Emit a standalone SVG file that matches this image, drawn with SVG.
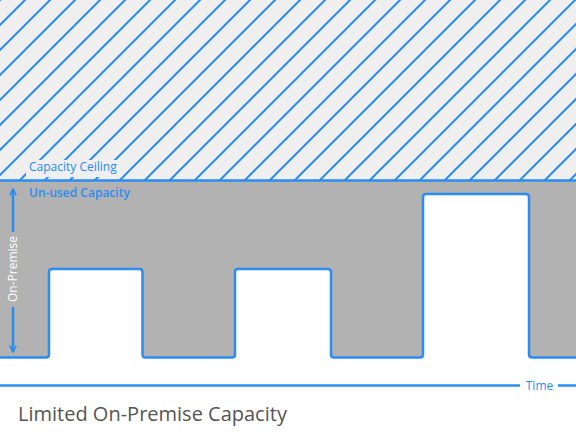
<svg xmlns="http://www.w3.org/2000/svg" width="576" height="441" viewBox="0 0 576 441">
  <defs>
    <pattern id="hatch" patternUnits="userSpaceOnUse" width="25" height="25">
      <rect width="25" height="25" fill="#efefef"/>
      <path d="M0,25 L25,0 M-2,2 L2,-2 M23,27 L27,23" stroke="#2b8cf2" stroke-width="2"/>
    </pattern>
    <marker id="arr" viewBox="0 0 10 10" refX="9" refY="5" markerWidth="8" markerHeight="8" orient="auto" markerUnits="userSpaceOnUse">
      <path d="M1,1 L9,5 L1,9" fill="none" stroke="#2b8cf2" stroke-width="2"/>
    </marker>
    <style>
      .blue { fill: #2b8cf2; font-family: "Open Sans", "Noto Sans", sans-serif; font-size: 12px; }
      .line { stroke: #2b8cf2; stroke-width: 2.5; fill: none; }
    </style>
  </defs>
  <rect width="576" height="441" fill="#ffffff"/>
  <g id="ceiling-area">
    <rect x="0" y="0" width="576" height="180" fill="url(#hatch)"/>
  </g>
  <g id="usage">
    <path d="M0,180 H576 V357.5 H532 Q529,357.5 529,354.5 V197 Q529,194 526,194 H426 Q423,194 423,197 V354.5 Q423,357.5 420,357.5 H334 Q331,357.5 331,354.5 V272 Q331,269 328,269 H238 Q235,269 235,272 V354.5 Q235,357.5 232,357.5 H145.5 Q142.5,357.5 142.5,354.5 V272 Q142.5,269 139.5,269 H52 Q49,269 49,272 V354.5 Q49,357.5 46,357.5 H0 Z" fill="#b2b2b2"/>
    <path class="line" d="M0,357.5 H46 Q49,357.5 49,354.5 V272 Q49,269 52,269 H139.5 Q142.5,269 142.5,272 V354.5 Q142.5,357.5 145.5,357.5 H232 Q235,357.5 235,354.5 V272 Q235,269 238,269 H328 Q331,269 331,272 V354.5 Q331,357.5 334,357.5 H420 Q423,357.5 423,354.5 V197 Q423,194 426,194 H526 Q529,194 529,197 V354.5 Q529,357.5 532,357.5 H576"/>
  </g>
  <g id="connectors">
    <line class="line" x1="0" y1="180.5" x2="576" y2="180.5"/>
    <line class="line" x1="13" y1="232" x2="13" y2="189" marker-end="url(#arr)" stroke-width="2"/>
    <line class="line" x1="13" y1="307" x2="13" y2="352" marker-end="url(#arr)" stroke-width="2"/>
    <line class="line" x1="0" y1="385.5" x2="520" y2="385.5"/>
    <line class="line" x1="558" y1="385.5" x2="576" y2="385.5"/>
  </g>
  <g id="labels">
    <rect x="26" y="160" width="96" height="17" fill="#efefef"/>
    <text class="blue" x="29" y="171">Capacity Ceiling</text>
    <text class="blue" x="29" y="197" font-weight="600">Un-used Capacity</text>
    <text x="539.5" y="390" text-anchor="middle" class="blue">Time</text>
    <text transform="translate(17,269) rotate(-90)" text-anchor="middle" font-family="Open Sans, Noto Sans, sans-serif" font-size="12" fill="#ffffff">On-Premise</text>
    <text x="18" y="421" font-family="Open Sans, Noto Sans, sans-serif" font-size="20" fill="#555555">Limited On-Premise Capacity</text>
  </g>
</svg>
